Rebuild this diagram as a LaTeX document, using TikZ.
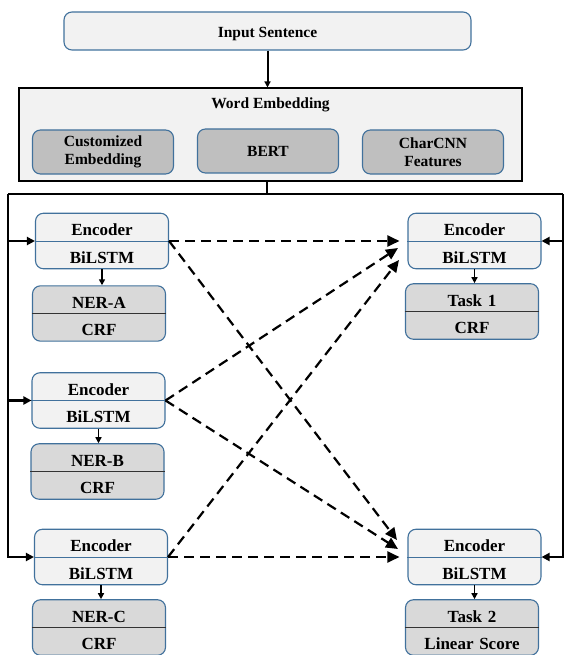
\documentclass[tikz,border=0pt]{standalone}
\usepackage{fontspec}
\setmainfont{Liberation Serif}
\usetikzlibrary{calc, positioning}
\usetikzlibrary{arrows.meta}
\usetikzlibrary{shapes.multipart}

\definecolor{boxfill}{HTML}{F2F2F2}
\definecolor{embfill}{HTML}{BFBFBF}
\definecolor{taskfill}{HTML}{D9D9D9}
\definecolor{boxline}{HTML}{41719C}

\newcommand{\partstrut}{\rule{0pt}{17pt}}

\tikzset{
  lbl/.style={font=\fontsize{15.5}{18}\selectfont\bfseries},
  inbox/.style={lbl, draw=boxline, fill=boxfill, line width=1.1pt, rounded corners=8pt,
    minimum width=407pt, minimum height=38pt, text height=13.5pt, text depth=0pt},
  webox/.style={draw=black, fill=boxfill, line width=1.1pt, minimum width=503pt, minimum height=93pt},
  embbox/.style={lbl, draw=boxline, fill=embfill, line width=1.1pt, rounded corners=8pt,
    minimum width=141pt, minimum height=44pt, align=center},
  twopart/.style={font=\fontsize{17}{20}\selectfont\bfseries, rectangle split, rectangle split parts=2,
    rectangle split draw splits=false, draw=boxline, line width=1.1pt, rounded corners=8pt,
    text width=125pt, align=center, inner xsep=4pt, inner ysep=4.75pt},
  encbox/.style={twopart, fill=boxfill},
  taskbox/.style={twopart, fill=taskfill},
  encsplit/.style={draw=boxline, line width=0.9pt},
  tasksplit/.style={draw=black!80, line width=1.1pt},
  busline/.style={line width=2.2pt},
  busarrow/.style={line width=2.2pt, -{Triangle[length=8pt,width=8pt]}},
  downarrow/.style={line width=1.6pt, -{Triangle[length=6pt,width=6pt]}},
  dasharrow/.style={line width=2.2pt, dash pattern=on 10pt off 6pt, -{Triangle[length=12pt,width=11pt]}}
}

\begin{document}
\begin{tikzpicture}[x=1pt, y=-1pt]
\useasboundingbox (0,0) rectangle (565,655);

% input and embeddings
\node[inbox] (input) at (267.5,31) {Input Sentence};
\node[webox] (wordemb) at (270.5,134.5) {};
\node[lbl, anchor=base] (wetitle) at (270.5,109) {Word Embedding};
\node[embbox] (custemb) at (103,152) {Customized\\Embedding};
\node[embbox] (bert) at (268,151) {BERT};
\node[embbox] (charcnn) at (433,152) {CharCNN\\Features};

\draw[downarrow, line width=2pt] (input.south) -- (input.south |- wordemb.north);

% encoders and task heads
\node[encbox] (encA) at (102,241) {\partstrut Encoder\nodepart{two}\partstrut BiLSTM};
\node[taskbox] (nerA) at (99,313.5) {\partstrut NER-A\nodepart{two}\partstrut CRF};
\node[encbox] (encB) at (98.5,400.5) {\partstrut Encoder\nodepart{two}\partstrut BiLSTM};
\node[taskbox] (nerB) at (97.5,471.5) {\partstrut NER-B\nodepart{two}\partstrut CRF};
\node[encbox] (encC) at (101,557) {\partstrut Encoder\nodepart{two}\partstrut BiLSTM};
\node[taskbox] (nerC) at (99,627.5) {\partstrut NER-C\nodepart{two}\partstrut CRF};
\node[encbox] (enc1) at (474.5,241) {\partstrut Encoder\nodepart{two}\partstrut BiLSTM};
\node[taskbox] (task1) at (472,311.5) {\partstrut Task 1\nodepart{two}\partstrut CRF};
\node[encbox] (enc2) at (474.5,557) {\partstrut Encoder\nodepart{two}\partstrut BiLSTM};
\node[taskbox] (task2) at (472,627.5) {\partstrut Task 2\nodepart{two}\partstrut Linear Score};

\foreach \e in {encA, encB, encC, enc1, enc2}
  \draw[encsplit] (\e.text split west) -- (\e.text split east);
\foreach \t in {nerA, nerB, nerC, task1, task2}
  \draw[tasksplit] (\t.text split west) -- (\t.text split east);

\draw[downarrow] (encA.south) -- (encA.south |- nerA.north);
\draw[downarrow] (encB.south) -- (encB.south |- nerB.north);
\draw[downarrow] (encC.south) -- (encC.south |- nerC.north);
\draw[downarrow] (enc1.south) -- (enc1.south |- task1.north);
\draw[downarrow] (enc2.south) -- (enc2.south |- task2.north);

% shared bus
\coordinate (busmid) at (267,194);
\coordinate (busL) at (8,194);
\coordinate (busR) at (563,194);
\draw[busline] (wordemb.south -| busmid) -- (busmid);
\draw[busline] (busL) -- (busR);
\draw[busarrow] (busL) |- (encC.text split west);
\draw[busarrow] (busL |- encA.text split west) -- (encA.text split west);
\draw[busarrow] (busL |- encB.text split west) -- (encB.text split west);
\draw[busarrow] (busR) |- (enc2.text split east);
\draw[busarrow] (busR |- enc1.text split east) -- (enc1.text split east);

% cross connections
\coordinate (in1a) at ($(enc1.text split west)+(-8,0)$);
\coordinate (in1b) at (398,248);
\coordinate (in1c) at (399,260);
\coordinate (in2a) at (397,540);
\coordinate (in2b) at (398,549);
\coordinate (in2c) at ($(enc2.text split west)+(-8,0)$);

\draw[dasharrow] (encA.text split east) -- (in1a);
\draw[dasharrow] (encA.text split east) -- (in2a);
\draw[dasharrow] (encB.text split east) -- (in1b);
\draw[dasharrow] (encB.text split east) -- (in2b);
\draw[dasharrow] (encC.text split east) -- (in1c);
\draw[dasharrow] (encC.text split east) -- (in2c);
\end{tikzpicture}
\end{document}
